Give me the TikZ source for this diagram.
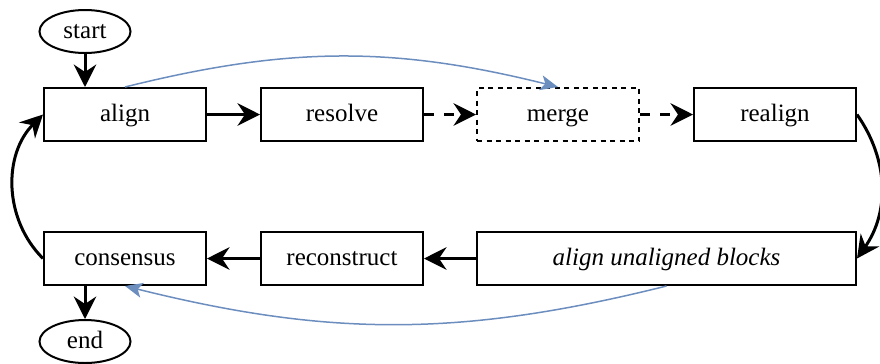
\documentclass[tikz,border=0pt]{standalone}
\usepackage{fontspec}
\setmainfont{Liberation Serif}
\usepackage{xcolor}
\usetikzlibrary{
    arrows.meta,
    shapes.geometric,
    positioning
}
\definecolor{linkblue}{HTML}{6C8EBF}
\tikzset{
    stage/.style={draw, line width=0.8pt, minimum width=64.8pt, minimum height=21.2pt, inner sep=0pt, text height=7.6pt, text depth=2pt},
    terminal/.style={draw, ellipse, line width=0.8pt, minimum width=36.4pt, minimum height=17.2pt, inner sep=0pt, text height=7.6pt, text depth=2pt},
    flow/.style={line width=1.2pt, -{Stealth[length=9pt,width=9pt,inset=3pt]}},
    maybe/.style={flow, dash pattern=on 4pt off 4pt},
    link/.style={draw=linkblue, line width=0.6pt, -{Stealth[length=7pt,width=6pt,inset=1.8pt]}}
}

\begin{document}
\begin{tikzpicture}[x=0.4pt, y=0.4pt, font=\fontsize{10}{12}\selectfont]
    \useasboundingbox (0, 0) rectangle (880, 363);
    % upper row
    \node[terminal] (start) at (85, 331.5) {start};
    \node[stage] (align) at (125, 248.5) {align};
    \node[stage] (resolve) at (342, 248.5) {resolve};
    \node[stage, dash pattern=on 2pt off 1.8pt] (merge) at (558, 248.5) {merge};
    \node[stage] (realign) at (775, 248.5) {realign};
    % lower row
    \node[stage] (consensus) at (125, 104.5) {consensus};
    \node[stage] (reconstruct) at (342, 104.5) {reconstruct};
    \node[stage, minimum width=151.6pt, font=\fontsize{10}{12}\selectfont\itshape] (blocks) at (666.5, 104.5) {align unaligned blocks};
    \node[terminal] (end) at (85, 21.5) {end};

    \draw
    (start.south) edge[flow] (start.south |- align.north)
    (align) edge[flow] (resolve)
    (resolve) edge[maybe] (merge)
    (merge) edge[maybe] (realign)
    (realign.east) edge[flow, out=-55, in=55] (blocks.east)
    (blocks) edge[flow] (reconstruct)
    (reconstruct) edge[flow] (consensus)
    (consensus.west) edge[flow, out=135, in=225] (align.west)
    (end.north |- consensus.south) edge[flow] (end.north);

    \draw
    (align.north) edge[link, bend left=14] (merge.north)
    (blocks.south) edge[link, bend left=14] (consensus.south);
\end{tikzpicture}
\end{document}
